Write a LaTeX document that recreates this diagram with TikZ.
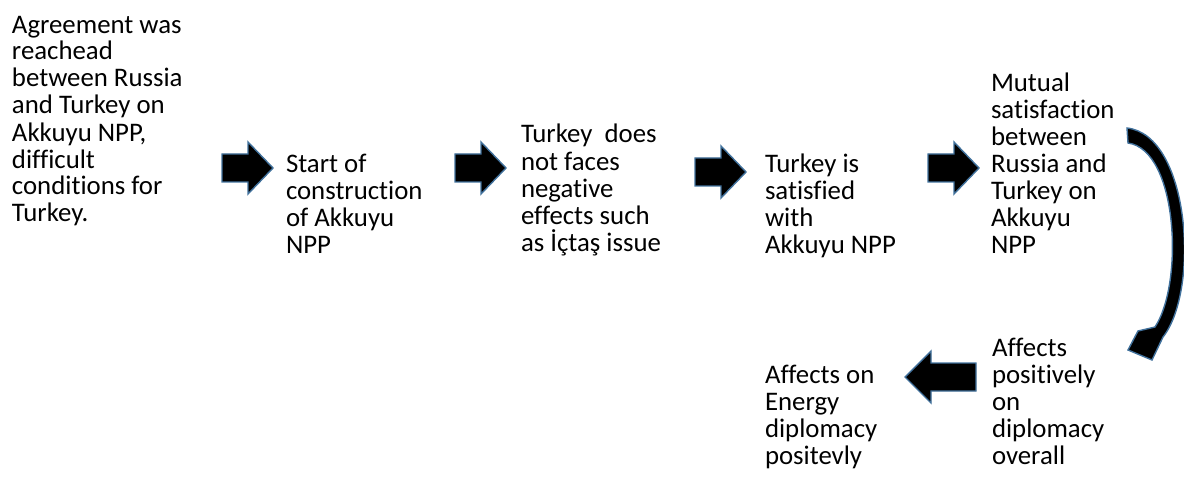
\documentclass[tikz,border=0pt]{standalone}
\usepackage{fontspec}
\setmainfont{Carlito}[Ligatures=NoCommon]
\definecolor{edgeblue}{RGB}{65,113,156}
\begin{document}
\begin{tikzpicture}[x=1pt,y=-1pt,
  txt/.style={anchor=north west, inner sep=0pt, outer sep=0pt, align=left,
    font=\fontsize{26.8}{27}\selectfont, text=black},
  blk/.style={fill=black, draw=edgeblue, line width=1.4pt, line join=miter}]
\useasboundingbox (0,0) rectangle (1184,500);
\newcommand{\fs}{\rule{0pt}{24pt}}
% text blocks
\node[txt] (t1) at (12,9) {\fs Agreement was\\reachead\\between Russia\\and Turkey on\\Akkuyu NPP,\\difficult\\conditions for\\Turkey.};
\node[txt] (t2) at (286,148) {\fs Start of\\construction\\of Akkuyu\\NPP};
\node[txt] (t3) at (521,119) {\fs Turkey\ \ does\\not faces\\negative\\effects such\\as İçtaş issue};
\node[txt] (t4) at (765,148) {\fs Turkey is\\satisfied\\with\\Akkuyu NPP};
\node[txt] (t5) at (991,67) {\fs Mutual\\satisfaction\\between\\Russia and\\Turkey on\\Akkuyu\\NPP};
\node[txt] (t6) at (992,332) {\fs Affects\\positively\\on\\diplomacy\\overall};
\node[txt] (t7) at (765,359) {\fs Affects on\\Energy\\diplomacy\\positevly};
% block arrows
\coordinate (a1) at (222,168);
\coordinate (a2) at (455,168);
\coordinate (a3) at (695,172);
\coordinate (a4) at (928,168);
\foreach \c in {a1,a2,a3,a4}{
  \draw[blk, shift={(\c)}] (0,-14) -- (26,-14) -- (26,-26) -- (51,0) -- (26,26) -- (26,14) -- (0,14) -- cycle;
}
\coordinate (a5) at (976,377);
\draw[blk, shift={(a5)}] (0,-14) -- (-45,-14) -- (-45,-26) -- (-71,0) -- (-45,26) -- (-45,14) -- (0,14) -- cycle;
% curved arrow
\draw[blk] (1127,128) .. controls (1190,135) and (1200,290) .. (1163,337)
  -- (1152,360) -- (1128,350) -- (1138,331) -- (1155,327)
  .. controls (1184,283) and (1178,150) .. (1128,143) -- cycle;
\end{tikzpicture}
\end{document}
